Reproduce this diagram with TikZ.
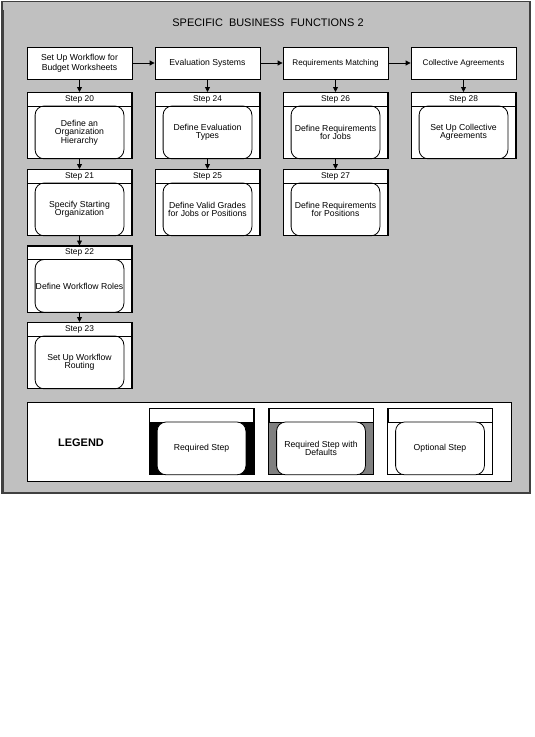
\documentclass[tikz,border=0pt]{standalone}
\usepackage{fontspec}
\setmainfont{Liberation Sans}
\usetikzlibrary{arrows.meta}
\definecolor{bggray}{RGB}{192,192,192}
\definecolor{framegray}{RGB}{64,64,64}
\definecolor{defgray}{RGB}{128,128,128}
\tikzset{
  x=1bp, y=-1bp,
  boxtext/.style={font=\fontsize{8.7}{10}\selectfont, align=center, inner sep=0pt},
  topbox/.style={draw, fill=white, line width=0.8bp, minimum width=105bp, minimum height=32bp, boxtext},
  stepframe/.style={draw, fill=white, line width=0.8bp, minimum width=104bp, minimum height=66bp, inner sep=0pt},
  steplabel/.style={font=\fontsize{8.4}{9}\selectfont, inner sep=0pt},
  steptext/.style={font=\fontsize{8.7}{8.6}\selectfont, align=center, inner sep=0pt},
  arr/.style={-{Triangle[length=5bp,width=5bp]}, line width=0.8bp},
}
\newcommand\stepbox[5]{%
  \node[stepframe, anchor=north] (#1) at (#2,#3) {};
  \draw[line width=0.8bp] ([yshift=-14bp]#1.north west) -- ([yshift=-14bp]#1.north east);
  \draw[line width=0.8bp, rounded corners=9bp] ([xshift=8bp,yshift=-14bp]#1.north west) rectangle ([xshift=-8bp]#1.south east);
  \draw[line width=0.8bp] (#1.north west) rectangle (#1.south east);
  \node[steplabel] (#1l) at ([yshift=-7bp]#1.north) {#4};
  \node[steptext] (#1t) at ([yshift=-7bp]#1.center) {#5};
}
\newcommand\legitem[5]{%
  \node[stepframe, anchor=north] (#1) at (#2,#3) {};
  \fill[#4] ([yshift=-14bp]#1.north west) rectangle (#1.south east);
  \draw[line width=0.8bp] (#1.north west) rectangle (#1.south east);
  \draw[line width=0.8bp] ([yshift=-14bp]#1.north west) -- ([yshift=-14bp]#1.north east);
  \draw[line width=0.8bp, fill=white, rounded corners=9bp] ([xshift=8bp,yshift=-14bp]#1.north west) rectangle ([xshift=-8bp]#1.south east);
  \node[steptext] (#1t) at ([yshift=-7bp]#1.center) {#5};
}
\begin{document}
\begin{tikzpicture}
\useasboundingbox (0,0) rectangle (535,737);
% outer frame
\fill[bggray] (2,1) rectangle (530,493);
\draw[framegray, line width=1.5bp] (2,1.5) rectangle (530,493);
\draw[framegray, line width=1bp] (3.8,10) -- (3.8,492);
\node[font=\fontsize{11}{13}\selectfont] (title) at (268,23) {SPECIFIC\ \ BUSINESS\ \ FUNCTIONS 2};
% top row
\node[topbox] (b1) at (79.5,63) {Set Up Workflow for\\Budget Worksheets};
\node[topbox] (b2) at (207.5,63) {Evaluation Systems};
\node[topbox, font=\fontsize{8.2}{10}\selectfont] (b3) at (335.5,63) {Requirements Matching};
\node[topbox, font=\fontsize{8.2}{10}\selectfont] (b4) at (463.5,63) {Collective Agreements};
\draw[arr] (b1) -- (b2);
\draw[arr] (b2) -- (b3);
\draw[arr] (b3) -- (b4);
% steps
\stepbox{s20}{79.5}{92}{Step 20}{Define an\\Organization\\Hierarchy}
\stepbox{s21}{79.5}{169}{Step 21}{Specify Starting\\Organization}
\stepbox{s22}{79.5}{245.5}{Step 22}{Define Workflow Roles}
\stepbox{s23}{79.5}{322}{Step 23}{Set Up Workflow\\Routing}
\stepbox{s24}{207.5}{92}{Step 24}{Define Evaluation\\Types}
\stepbox{s25}{207.5}{169}{Step 25}{Define Valid Grades\\for Jobs or Positions}
\stepbox{s26}{335.5}{92}{Step 26}{Define Requirements\\for Jobs}
\stepbox{s27}{335.5}{169}{Step 27}{Define Requirements\\for Positions}
\stepbox{s28}{463.5}{92}{Step 28}{Set Up Collective\\Agreements}
\draw[arr] (b1) -- (s20);
\draw[arr] (s20) -- (s21);
\draw[arr] (s21) -- (s22);
\draw[arr] (s22) -- (s23);
\draw[arr] (b2) -- (s24);
\draw[arr] (s24) -- (s25);
\draw[arr] (b3) -- (s26);
\draw[arr] (s26) -- (s27);
\draw[arr] (b4) -- (s28);
% legend
\node[draw, fill=white, line width=0.8bp, minimum width=484bp, minimum height=79bp, inner sep=0pt] (legend) at (269,441.5) {};
\node[font=\bfseries\fontsize{11}{13}\selectfont] (legtitle) at (81,443) {LEGEND};
\legitem{l1}{201.5}{408}{black}{Required Step}
\legitem{l2}{321}{408}{defgray}{Required Step with\\Defaults}
\legitem{l3}{440}{408}{white}{Optional Step}
\end{tikzpicture}
\end{document}
